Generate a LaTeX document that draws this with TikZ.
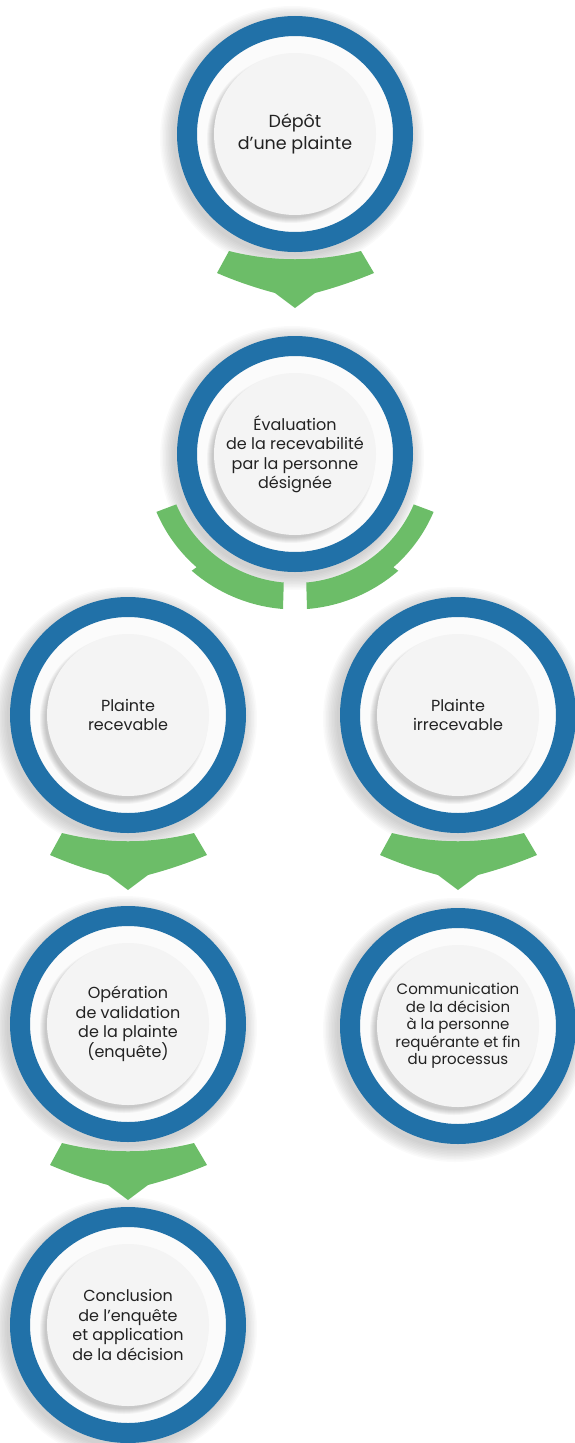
\documentclass[tikz,border=0pt]{standalone}
\usepackage{fontspec}
\setmainfont{Poppins}
\usetikzlibrary{positioning,calc}
\definecolor{ringblue}{HTML}{2171A8}
\definecolor{bandgreen}{HTML}{6CBD68}
\definecolor{diskwhite}{HTML}{F4F4F4}
\definecolor{gapwhite}{HTML}{FBFBFB}
\definecolor{txtgray}{HTML}{222222}
\tikzset{
  ring/.style={circle,draw=ringblue,line width=20pt,fill=gapwhite,minimum size=216pt,inner sep=0pt},
  disk/.style={circle,fill=diskwhite,minimum size=162pt,inner sep=0pt,align=center,
    text=txtgray,font=\fontsize{16}{19.5}\selectfont},
  pics/chevron/.style={code={
    \fill[bandgreen] (-66,-8) .. controls (-22,3) and (22,3) .. (66,-8) -- (79,14)
      .. controls (55,24) and (35,30) .. (20,34) -- (0,49) -- (-20,34)
      .. controls (-35,30) and (-55,24) .. (-78,14) -- cycle;
  }},
}

\begin{document}
\begin{tikzpicture}[x=1pt,y=-1pt]
\useasboundingbox (0,0) rectangle (575,1443);
% centres of the steps
\coordinate (c1) at (295,134);
\coordinate (c2) at (295,454);
\coordinate (c3) at (128,715);
\coordinate (c4) at (458,715);
\coordinate (c5) at (128,1024);
\coordinate (c6) at (458,1026);
\coordinate (c7) at (128,1325);
% rings with soft shadows
\foreach \c in {c1,c2,c3,c4,c5,c6,c7}{
  \foreach \k in {1,...,10}
    \fill[black,opacity=0.018] ($(\c)+(-3,4)$) circle[radius=117+1.5*\k];
  \node[ring] (ring\c) at (\c) {};
  \foreach \k in {1,...,6}
    \fill[black,opacity=0.035] ($(\c)+(-4,5)$) circle[radius=78+\k];
}
% steps
\node[disk,font=\fontsize{17.5}{22}\selectfont] (dep) at (c1) {Dépôt\\d’une plainte};
\node[disk] (eval) at (c2) {Évaluation\\de la recevabilité\\par la personne\\désignée};
\node[disk] (recv) at (c3) {Plainte\\recevable};
\node[disk] (irrecv) at (c4) {Plainte\\irrecevable};
\node[disk] (valid) at (c5) {Opération\\de validation\\de la plainte\\(enquête)};
\node[disk,font=\fontsize{15}{17.5}\selectfont] (comm) at (c6) {Communication\\de la décision\\à la personne\\requérante et fin\\du processus};
\node[disk] (concl) at (c7) {Conclusion\\de l’enquête\\et application\\de la décision};
% green arrows
\pic at ($(dep)+(0,125)$) {chevron};
\pic at ($(recv)+(0,126)$) {chevron};
\pic at ($(irrecv)+(0,126)$) {chevron};
\pic at ($(valid)+(0,127)$) {chevron};
% split arrow under the evaluation
\fill[bandgreen] ($(eval)+(157:129)$) arc[start angle=157,end angle=95,radius=129]
  -- ($(eval)+(-12,155)$) arc[start angle=94.5,end angle=131,radius=158]
  -- ($(eval)+(131:150)$) arc[start angle=131,end angle=157,radius=152] -- cycle;
\fill[bandgreen] ($(eval)+(23:129)$) arc[start angle=23,end angle=85,radius=129]
  -- ($(eval)+(12,155)$) arc[start angle=85.5,end angle=49,radius=158]
  -- ($(eval)+(49:150)$) arc[start angle=49,end angle=23,radius=152] -- cycle;
\end{tikzpicture}
\end{document}
